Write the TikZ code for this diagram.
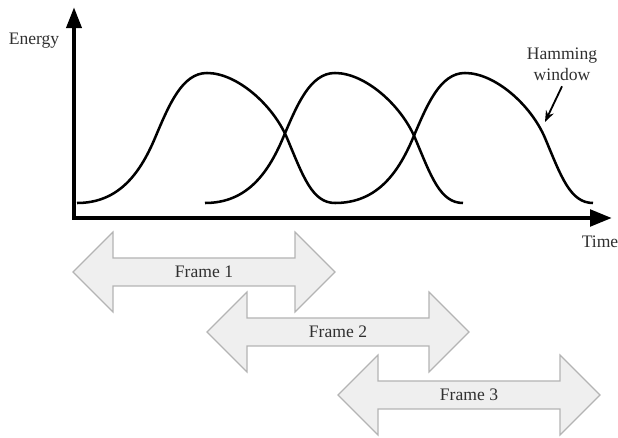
\documentclass[tikz,border=0pt]{standalone}
\usepackage{fontspec}
\setmainfont{Liberation Serif}
\usepackage{tikz}
\usetikzlibrary{positioning,arrows.meta}
\definecolor{framefill}{HTML}{EFEFEF}
\definecolor{frameline}{HTML}{B4B4B4}
\definecolor{labeltext}{HTML}{303030}
\tikzset{
  figlabel/.style={font=\fontsize{12.5}{15}\selectfont, text=labeltext, align=center, inner sep=0pt},
  figaxis/.style={line width=3.2pt, line join=miter,
    {Triangle[length=15pt,width=10.5pt]}-{Triangle[length=15.6pt,width=11.5pt]}},
  figwindow/.style={line width=1.8pt},
  figpointer/.style={-{Stealth[length=8pt,width=6pt]}, line width=1.3pt},
  figframe/.style={draw=frameline, fill=framefill, line width=0.8pt, line join=miter},
}

\begin{document}
\begin{tikzpicture}[x=0.025cm, y=-0.025cm]
  \useasboundingbox (0,0) rectangle (618,438);
  \coordinate (o) at (74,218);
  \coordinate (ytip) at (74,7);
  \coordinate (xtip) at (612,218);
  \draw[figaxis] (ytip) -- (o) -- (xtip);
  \node[figlabel] (energy) at (34,41) {Energy};
  \node[figlabel] (time) at (600,242) {Time};
  \foreach \s in {77,205,335}
    \draw[figwindow] (\s,203) .. controls (\s+40,203) and (\s+62,176) .. (\s+78,138)
      .. controls (\s+92,105) and (\s+105,73) .. (\s+130,73)
      .. controls (\s+160,73) and (\s+196,105) .. (\s+210,138)
      .. controls (\s+226,176) and (\s+235,203) .. (\s+258,203);
  \node[figlabel] (hw) at (562,64) {Hamming\\window};
  \coordinate (hwtip) at (545,122);
  \draw[figpointer] ([yshift=-4pt]hw.south) -- (hwtip);
  \foreach \x/\y/\n in {73/272/1,207/332/2,338/395/3}{
    \draw[figframe] (\x,\y) -- ++(40,-40) -- ++(0,26) -- ++(182,0) -- ++(0,-26) -- ++(40,40)
      -- ++(-40,40) -- ++(0,-26) -- ++(-182,0) -- ++(0,26) -- cycle;
    \node[figlabel] (f\n) at (\x+131,\y) {Frame \n};
  }
\end{tikzpicture}
\end{document}
